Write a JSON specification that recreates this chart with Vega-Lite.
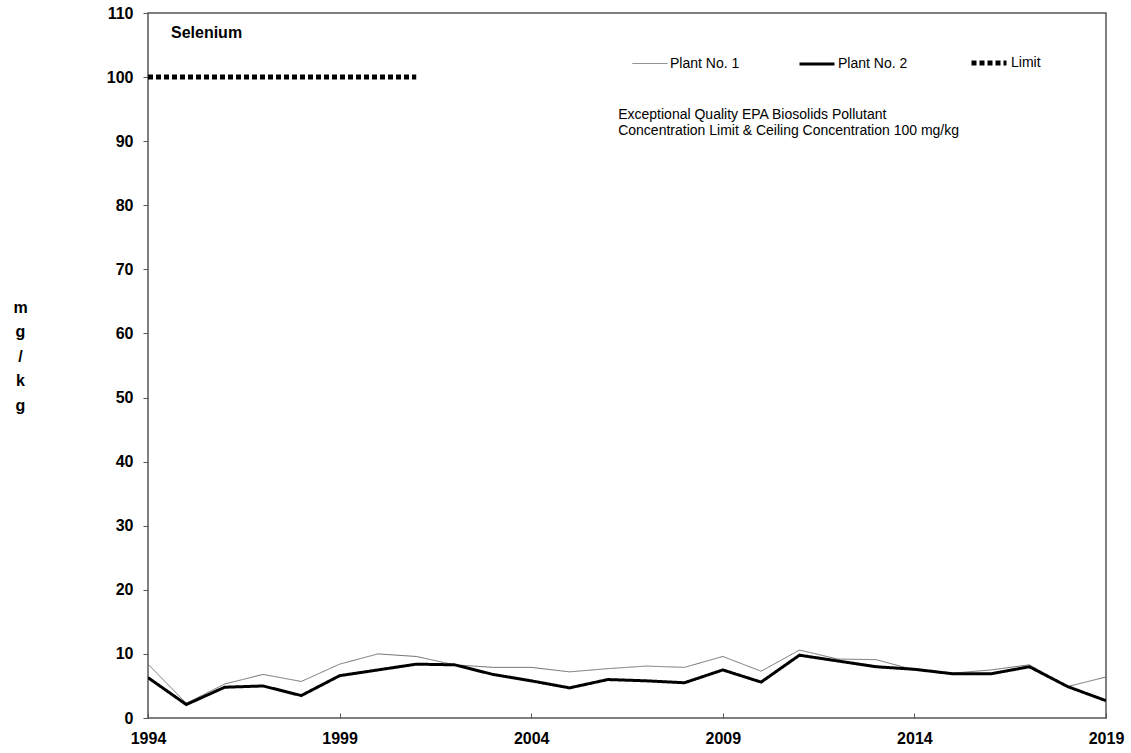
{
  "$schema": "https://vega.github.io/schema/vega-lite/v6.json",
  "width": 958,
  "height": 705,
  "autosize": {"type": "none"},
  "padding": {"left": 148, "top": 13, "right": 25, "bottom": 35},
  "background": "white",
  "config": {
    "font": "Liberation Sans",
    "view": {"stroke": "#555", "strokeWidth": 1.5},
    "axis": {"grid": false, "domain": false, "tickColor": "#555", "labelColor": "#000", "labelFont": "Liberation Sans", "labelFontWeight": "bold", "labelFontSize": 16},
    "legend": {
      "title": null, "orient": "none", "direction": "horizontal", "legendX": 484, "legendY": 30,
      "symbolType": "stroke", "symbolSize": 1225, "labelFontSize": 14, "labelFont": "Liberation Sans", "labelOffset": 2,
      "columnPadding": 53, "labelColor": "#000"
    }
  },
  "layer": [
    {
      "data": {
        "values": [
          {"year": 1994, "value": 8.4, "series": "Plant No. 1"},
          {"year": 1995, "value": 2.3, "series": "Plant No. 1"},
          {"year": 1996, "value": 5.3, "series": "Plant No. 1"},
          {"year": 1997, "value": 6.8, "series": "Plant No. 1"},
          {"year": 1998, "value": 5.7, "series": "Plant No. 1"},
          {"year": 1999, "value": 8.4, "series": "Plant No. 1"},
          {"year": 2000, "value": 10.0, "series": "Plant No. 1"},
          {"year": 2001, "value": 9.6, "series": "Plant No. 1"},
          {"year": 2002, "value": 8.3, "series": "Plant No. 1"},
          {"year": 2003, "value": 7.9, "series": "Plant No. 1"},
          {"year": 2004, "value": 7.9, "series": "Plant No. 1"},
          {"year": 2005, "value": 7.2, "series": "Plant No. 1"},
          {"year": 2006, "value": 7.7, "series": "Plant No. 1"},
          {"year": 2007, "value": 8.1, "series": "Plant No. 1"},
          {"year": 2008, "value": 7.9, "series": "Plant No. 1"},
          {"year": 2009, "value": 9.6, "series": "Plant No. 1"},
          {"year": 2010, "value": 7.3, "series": "Plant No. 1"},
          {"year": 2011, "value": 10.6, "series": "Plant No. 1"},
          {"year": 2012, "value": 9.2, "series": "Plant No. 1"},
          {"year": 2013, "value": 9.1, "series": "Plant No. 1"},
          {"year": 2014, "value": 7.5, "series": "Plant No. 1"},
          {"year": 2015, "value": 7.0, "series": "Plant No. 1"},
          {"year": 2016, "value": 7.5, "series": "Plant No. 1"},
          {"year": 2017, "value": 8.3, "series": "Plant No. 1"},
          {"year": 2018, "value": 4.9, "series": "Plant No. 1"},
          {"year": 2019, "value": 6.4, "series": "Plant No. 1"},
          {"year": 1994, "value": 6.3, "series": "Plant No. 2"},
          {"year": 1995, "value": 2.1, "series": "Plant No. 2"},
          {"year": 1996, "value": 4.8, "series": "Plant No. 2"},
          {"year": 1997, "value": 5.0, "series": "Plant No. 2"},
          {"year": 1998, "value": 3.5, "series": "Plant No. 2"},
          {"year": 1999, "value": 6.6, "series": "Plant No. 2"},
          {"year": 2000, "value": 7.5, "series": "Plant No. 2"},
          {"year": 2001, "value": 8.4, "series": "Plant No. 2"},
          {"year": 2002, "value": 8.3, "series": "Plant No. 2"},
          {"year": 2003, "value": 6.8, "series": "Plant No. 2"},
          {"year": 2004, "value": 5.8, "series": "Plant No. 2"},
          {"year": 2005, "value": 4.7, "series": "Plant No. 2"},
          {"year": 2006, "value": 6.0, "series": "Plant No. 2"},
          {"year": 2007, "value": 5.8, "series": "Plant No. 2"},
          {"year": 2008, "value": 5.5, "series": "Plant No. 2"},
          {"year": 2009, "value": 7.5, "series": "Plant No. 2"},
          {"year": 2010, "value": 5.6, "series": "Plant No. 2"},
          {"year": 2011, "value": 9.8, "series": "Plant No. 2"},
          {"year": 2012, "value": 8.9, "series": "Plant No. 2"},
          {"year": 2013, "value": 8.0, "series": "Plant No. 2"},
          {"year": 2014, "value": 7.6, "series": "Plant No. 2"},
          {"year": 2015, "value": 6.9, "series": "Plant No. 2"},
          {"year": 2016, "value": 6.9, "series": "Plant No. 2"},
          {"year": 2017, "value": 8.0, "series": "Plant No. 2"},
          {"year": 2018, "value": 4.9, "series": "Plant No. 2"},
          {"year": 2019, "value": 2.7, "series": "Plant No. 2"},
          {"year": 1994, "value": 100, "series": "Limit"},
          {"year": 2001, "value": 100, "series": "Limit"}
        ]
      },
      "mark": {"type": "line", "clip": true},
      "encoding": {
        "x": {
          "field": "year", "type": "quantitative",
          "scale": {"domain": [1994, 2019], "nice": false, "zero": false},
          "axis": {"title": null, "values": [1994, 1999, 2004, 2009, 2014, 2019], "format": "d", "tickSize": -5, "labelPadding": 17, "labelFlush": false}
        },
        "y": {
          "field": "value", "type": "quantitative",
          "scale": {"domain": [0, 110], "nice": false},
          "axis": {
            "title": ["m", "g", "/", "k", "g"],
            "titleAngle": 0, "titleX": -128, "titleY": 294, "titleAlign": "center", "titleBaseline": "middle",
            "titleLineHeight": 24.5, "titleFontSize": 16, "titleFontWeight": "bold", "titleFont": "Liberation Sans", "titleColor": "#000",
            "values": [0, 10, 20, 30, 40, 50, 60, 70, 80, 90, 100, 110],
            "tickSize": 5, "labelPadding": 10
          }
        },
        "color": {
          "field": "series", "type": "nominal",
          "scale": {"domain": ["Plant No. 1", "Plant No. 2", "Limit"], "range": ["#707070", "#000000", "#000000"]}
        },
        "strokeWidth": {
          "field": "series", "type": "nominal",
          "scale": {"domain": ["Plant No. 1", "Plant No. 2", "Limit"], "range": [1, 5, 1.8]}
        },
        "strokeDash": {
          "field": "series", "type": "nominal",
          "scale": {"domain": ["Plant No. 1", "Plant No. 2", "Limit"], "range": [[1, 0], [1, 0], [5, 3]]}
        }
      }
    },
    {
      "data": {"values": [{}]},
      "mark": {"type": "text", "text": "Selenium", "font": "Liberation Sans", "fontWeight": "bold", "fontSize": 16, "align": "left", "baseline": "middle", "color": "#000"},
      "encoding": {"x": {"datum": 1994.6, "type": "quantitative"}, "y": {"datum": 106.9, "type": "quantitative"}}
    },
    {
      "data": {"values": [{}]},
      "mark": {"type": "text", "text": ["Exceptional Quality EPA Biosolids Pollutant", "Concentration Limit & Ceiling Concentration 100 mg/kg"], "font": "Liberation Sans", "fontSize": 14, "lineHeight": 16, "align": "left", "baseline": "alphabetic", "color": "#000"},
      "encoding": {"x": {"datum": 2006.27, "type": "quantitative"}, "y": {"datum": 93.4, "type": "quantitative"}}
    }
  ]
}
